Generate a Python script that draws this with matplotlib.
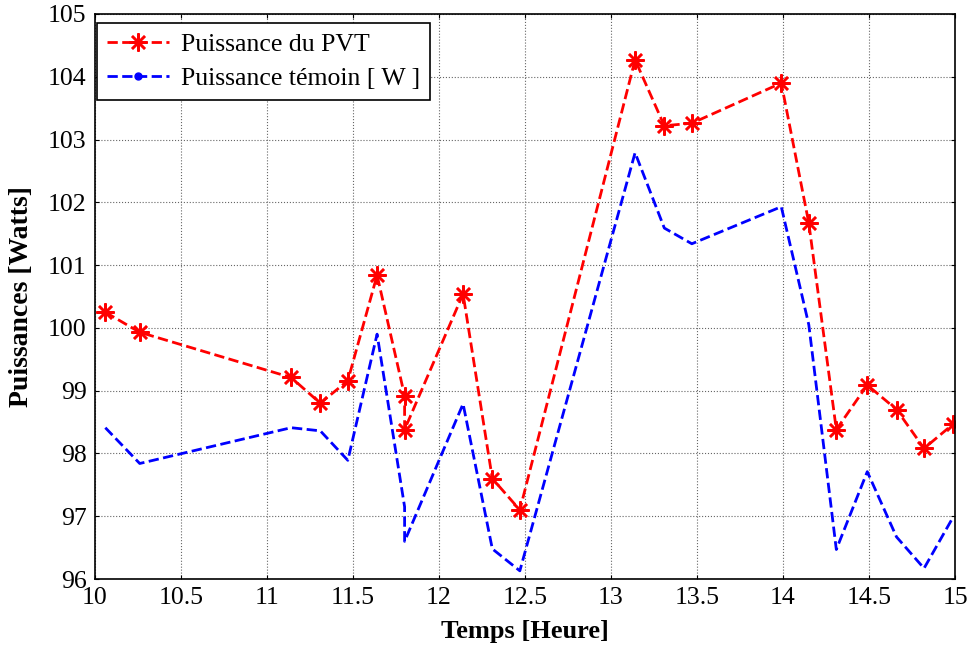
import numpy as np
import matplotlib.pyplot as plt
from matplotlib.lines import Line2D

plt.rcParams['font.family'] = ['Liberation Serif', 'DejaVu Serif']

# temps (heure)
temps = [10.06, 10.26, 11.14, 11.31, 11.47, 11.64, 11.80, 11.80, 12.14, 12.31, 12.47,
         13.14, 13.31, 13.47, 13.99, 14.15, 14.31, 14.49, 14.66, 14.82, 14.99]
p_pvt = [100.25, 99.93, 99.21, 98.80, 99.16, 100.84, 98.92, 98.38, 100.54, 97.60, 97.10,
         104.27, 103.22, 103.26, 103.90, 101.67, 98.38, 99.09, 98.70, 98.08, 98.47]
p_temoin = [98.41, 97.84, 98.41, 98.36, 97.89, 99.90, 97.15, 96.60, 98.79, 96.48, 96.13,
            102.79, 101.59, 101.34, 101.93, 100.05, 96.47, 97.71, 96.67, 96.17, 96.99]

fig = plt.figure(figsize=(9.7, 6.48), dpi=100)
ax = fig.add_axes([95/970, 1-579/648, 860/970, 565/648])

ax.plot(temps, p_pvt, '--', color='red', lw=2, marker=(8, 2, 0), ms=13, mew=1.8)
ax.plot(temps, p_temoin, '--', color='blue', lw=2)

ax.set_xlim(10, 15)
ax.set_ylim(96, 105)
ax.set_xticks(np.arange(10, 15.01, 0.5))
ax.set_xticklabels(['10', '10.5', '11', '11.5', '12', '12.5', '13', '13.5', '14', '14.5', '15'])
ax.set_yticks(np.arange(96, 105.1, 1))
ax.tick_params(direction='in', top=True, right=True, labelsize=18.5, length=3, pad=6)
ax.grid(True, color='0.4', linestyle=':', linewidth=0.8)
for s in ax.spines.values():
    s.set_linewidth(1.2)

ax.set_xlabel('Temps [Heure]', fontsize=19, fontweight='bold', labelpad=8)
ax.set_ylabel('Puissances [Watts]', fontsize=20, fontweight='bold', labelpad=10)

h1 = Line2D([], [], ls='--', color='red', lw=2, marker=(8, 2, 0), ms=13, mew=1.8)
h2 = Line2D([], [], ls='--', color='blue', lw=2, marker='.', ms=10)
leg = ax.legend([h1, h2], ['Puissance du PVT', 'Puissance témoin [ W ]'],
                loc='upper left', bbox_to_anchor=(2/860, 1-9/565), fontsize=18.5,
                fancybox=False, framealpha=1, edgecolor='black', borderaxespad=0,
                handlelength=2.4, handletextpad=0.45, borderpad=0.4, labelspacing=0.4)
leg.get_frame().set_linewidth(1.2)

fig.savefig('out.png', dpi=100)
